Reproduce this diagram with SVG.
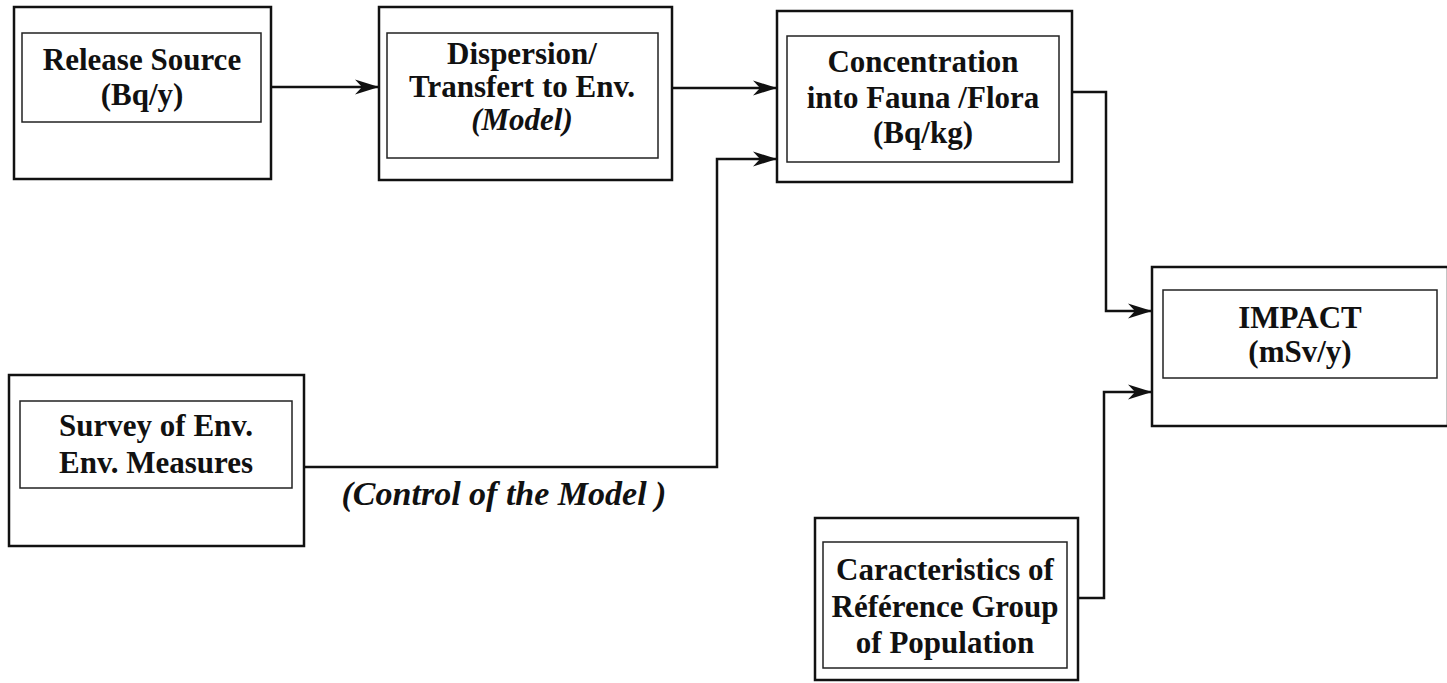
<svg xmlns="http://www.w3.org/2000/svg" width="1447" height="683" viewBox="0 0 1447 683">
  <style>
    .outer { fill: none; stroke: #111; stroke-width: 2.5; }
    .inner { fill: none; stroke: #222; stroke-width: 1.5; }
    .lbl { font-family: "Liberation Serif", "Times New Roman", serif; font-weight: bold; font-size: 31px; fill: #111; text-anchor: middle; }
    .it { font-style: italic; }
    .big { font-size: 34px; }
    .wire { fill: none; stroke: #111; stroke-width: 2.5; marker-end: url(#arrow); }
  </style>
  <defs>
    <marker id="arrow" markerUnits="userSpaceOnUse" markerWidth="26" markerHeight="16" refX="24" refY="8" orient="auto">
      <path d="M0,0.5 L24,8 L0,15.5 L7,8 Z" fill="#111"/>
    </marker>
  </defs>
  <rect width="1447" height="683" fill="#fff"/>

  <g id="connectors">
    <path class="wire" d="M271,87 H379"/>
    <path class="wire" d="M672,88 H777"/>
    <path class="wire" d="M304,467 H717 V159 H777"/>
    <path class="wire" d="M1072,92 H1106 V311 H1152"/>
    <path class="wire" d="M1078,598 H1104 V392 H1152"/>
  </g>

  <g id="release-source">
    <rect class="outer" x="14" y="7" width="257" height="172"/>
    <rect class="inner" x="22" y="33" width="239" height="89"/>
    <text class="lbl" x="142" y="70">Release Source</text>
    <text class="lbl" x="142" y="105">(Bq/y)</text>
  </g>

  <g id="dispersion">
    <rect class="outer" x="379" y="7" width="293" height="173"/>
    <rect class="inner" x="387" y="33" width="271" height="125"/>
    <text class="lbl" x="522" y="64">Dispersion/</text>
    <text class="lbl" x="522" y="97">Transfert to Env.</text>
    <text class="lbl it" x="522" y="130">(Model)</text>
  </g>

  <g id="concentration">
    <rect class="outer" x="777" y="11" width="295" height="171"/>
    <rect class="inner" x="787" y="36" width="272" height="126"/>
    <text class="lbl" x="923" y="72">Concentration</text>
    <text class="lbl" x="923" y="108">into Fauna /Flora</text>
    <text class="lbl" x="923" y="143">(Bq/kg)</text>
  </g>

  <g id="impact">
    <rect class="outer" x="1152" y="267" width="296" height="159"/>
    <rect class="inner" x="1163" y="290" width="274" height="88"/>
    <text class="lbl" x="1300" y="328">IMPACT</text>
    <text class="lbl" x="1300" y="362">(mSv/y)</text>
  </g>

  <g id="survey">
    <rect class="outer" x="9" y="375" width="295" height="171"/>
    <rect class="inner" x="20" y="401" width="272" height="87"/>
    <text class="lbl" x="156" y="436">Survey of Env.</text>
    <text class="lbl" x="156" y="473">Env. Measures</text>
  </g>

  <g id="control-label">
    <text class="lbl it big" x="504" y="505">(Control of the Model )</text>
  </g>

  <g id="reference-group">
    <rect class="outer" x="815" y="518" width="263" height="162"/>
    <rect class="inner" x="823" y="542" width="244" height="126"/>
    <text class="lbl" x="945" y="580">Caracteristics of</text>
    <text class="lbl" x="945" y="617">Référence Group</text>
    <text class="lbl" x="945" y="653">of Population</text>
  </g>
</svg>
